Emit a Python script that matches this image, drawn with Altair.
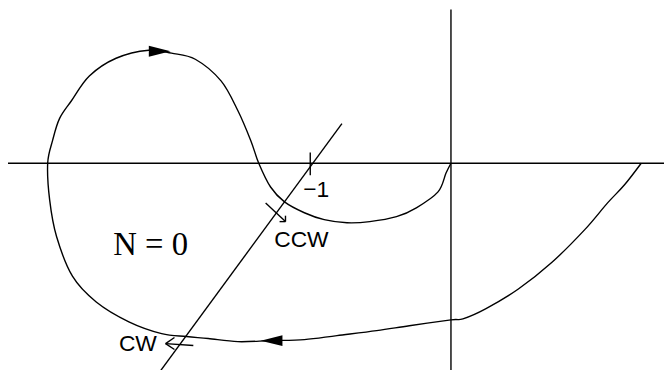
import altair as alt
import pandas as pd

# Nyquist contour, in units where the critical point is -1 (real, imaginary)
curve_re = [1.352, 1.232, 1.113, 0.951, 0.718, 0.479, 0.246, 0.085, 0.0, -0.296,
            -0.528, -0.810, -1.042, -1.282, -1.514, -1.725, -1.880, -2.056, -2.289, -2.521,
            -2.690, -2.803, -2.852, -2.866, -2.831, -2.782, -2.697, -2.570, -2.380, -2.148,
            -1.986, -1.817, -1.634, -1.514, -1.423, -1.366, -1.282, -1.183, -1.042, -0.901,
            -0.739, -0.577, -0.387, -0.246, -0.092, -0.035, 0.0]
curve_im = [0.0, -0.155, -0.282, -0.472, -0.704, -0.894, -1.035, -1.106, -1.113, -1.155,
            -1.190, -1.225, -1.254, -1.261, -1.268, -1.246, -1.232, -1.211, -1.127, -0.986,
            -0.803, -0.521, -0.261, 0.0, 0.162, 0.317, 0.444, 0.620, 0.746, 0.803,
            0.782, 0.739, 0.585, 0.373, 0.162, 0.0, -0.169, -0.275, -0.352, -0.401,
            -0.423, -0.415, -0.380, -0.317, -0.204, -0.070, 0.0]

# straight segments: axes, slanted line, tick at -1, small direction arrows
seg_x1 = [-3.155, 0.0, -2.077, -1.0, -1.317, -1.218, -1.176, -2.028, -2.028, -2.028]
seg_y1 = [0.0, 1.092, -1.493, 0.077, -0.282, -0.415, -0.373, -1.282, -1.282, -1.282]
seg_x2 = [1.528, 0.0, -0.775, -1.0, -1.176, -1.176, -1.176, -1.831, -1.965, -1.965]
seg_y2 = [0.0, -1.493, 0.282, -0.085, -0.415, -0.415, -0.415, -1.296, -1.239, -1.324]

# direction triangles on the contour
arrow_re = [-2.070, -1.275]
arrow_im = [0.796, -1.261]
arrow_dir = ["right", "left"]

# labels
label_text = ["\u22121", "CCW", "CW"]
label_re = [-0.958, -1.063, -2.225]
label_im = [-0.190, -0.549, -1.282]
n_text = ["N = 0"]
n_re = [-2.134]
n_im = [-0.585]

curve = pd.DataFrame({"re": curve_re, "im": curve_im, "i": list(range(len(curve_re)))})
segs = pd.DataFrame({"x": seg_x1, "y": seg_y1, "x2": seg_x2, "y2": seg_y2})
arrows = pd.DataFrame({"re": arrow_re, "im": arrow_im, "dir": arrow_dir})
labels = pd.DataFrame({"re": label_re, "im": label_im, "t": label_text})
nlab = pd.DataFrame({"re": n_re, "im": n_im, "t": n_text})

xs = alt.Scale(domain=[-3.148, 1.514], nice=False, zero=False)
ys = alt.Scale(domain=[-1.458, 1.0915], nice=False, zero=False)

line = alt.Chart(curve).mark_line(color="black", strokeWidth=1.4, interpolate="cardinal").encode(
    x=alt.X("re:Q", scale=xs, axis=None),
    y=alt.Y("im:Q", scale=ys, axis=None),
    order="i:Q",
)

rules = alt.Chart(segs).mark_rule(color="black", strokeWidth=1.4).encode(
    x=alt.X("x:Q", scale=xs, axis=None),
    y=alt.Y("y:Q", scale=ys, axis=None),
    x2="x2:Q",
    y2="y2:Q",
)

tri_r = alt.Chart(arrows[arrows["dir"] == "right"]).mark_point(
    shape="M-1,-0.5L1,0L-1,0.5Z", filled=True, color="black", size=480, opacity=1
).encode(x=alt.X("re:Q", scale=xs, axis=None), y=alt.Y("im:Q", scale=ys, axis=None))

tri_l = alt.Chart(arrows[arrows["dir"] == "left"]).mark_point(
    shape="M1,-0.5L-1,0L1,0.5Z", filled=True, color="black", size=480, opacity=1
).encode(x=alt.X("re:Q", scale=xs, axis=None), y=alt.Y("im:Q", scale=ys, axis=None))

txt = alt.Chart(labels).mark_text(font="Liberation Sans", fontSize=23, color="black").encode(
    x=alt.X("re:Q", scale=xs, axis=None),
    y=alt.Y("im:Q", scale=ys, axis=None),
    text="t:N",
)

ntxt = alt.Chart(nlab).mark_text(font="Liberation Serif", fontSize=33, color="black").encode(
    x=alt.X("re:Q", scale=xs, axis=None),
    y=alt.Y("im:Q", scale=ys, axis=None),
    text="t:N",
)

chart = alt.layer(rules, line, tri_r, tri_l, txt, ntxt).properties(
    width=662, height=362, padding=0, autosize=alt.AutoSizeParams(type="none"),
    background="white",
).configure_view(stroke=None)

chart.save("out.html", embed_options={"renderer": "svg", "actions": False})
